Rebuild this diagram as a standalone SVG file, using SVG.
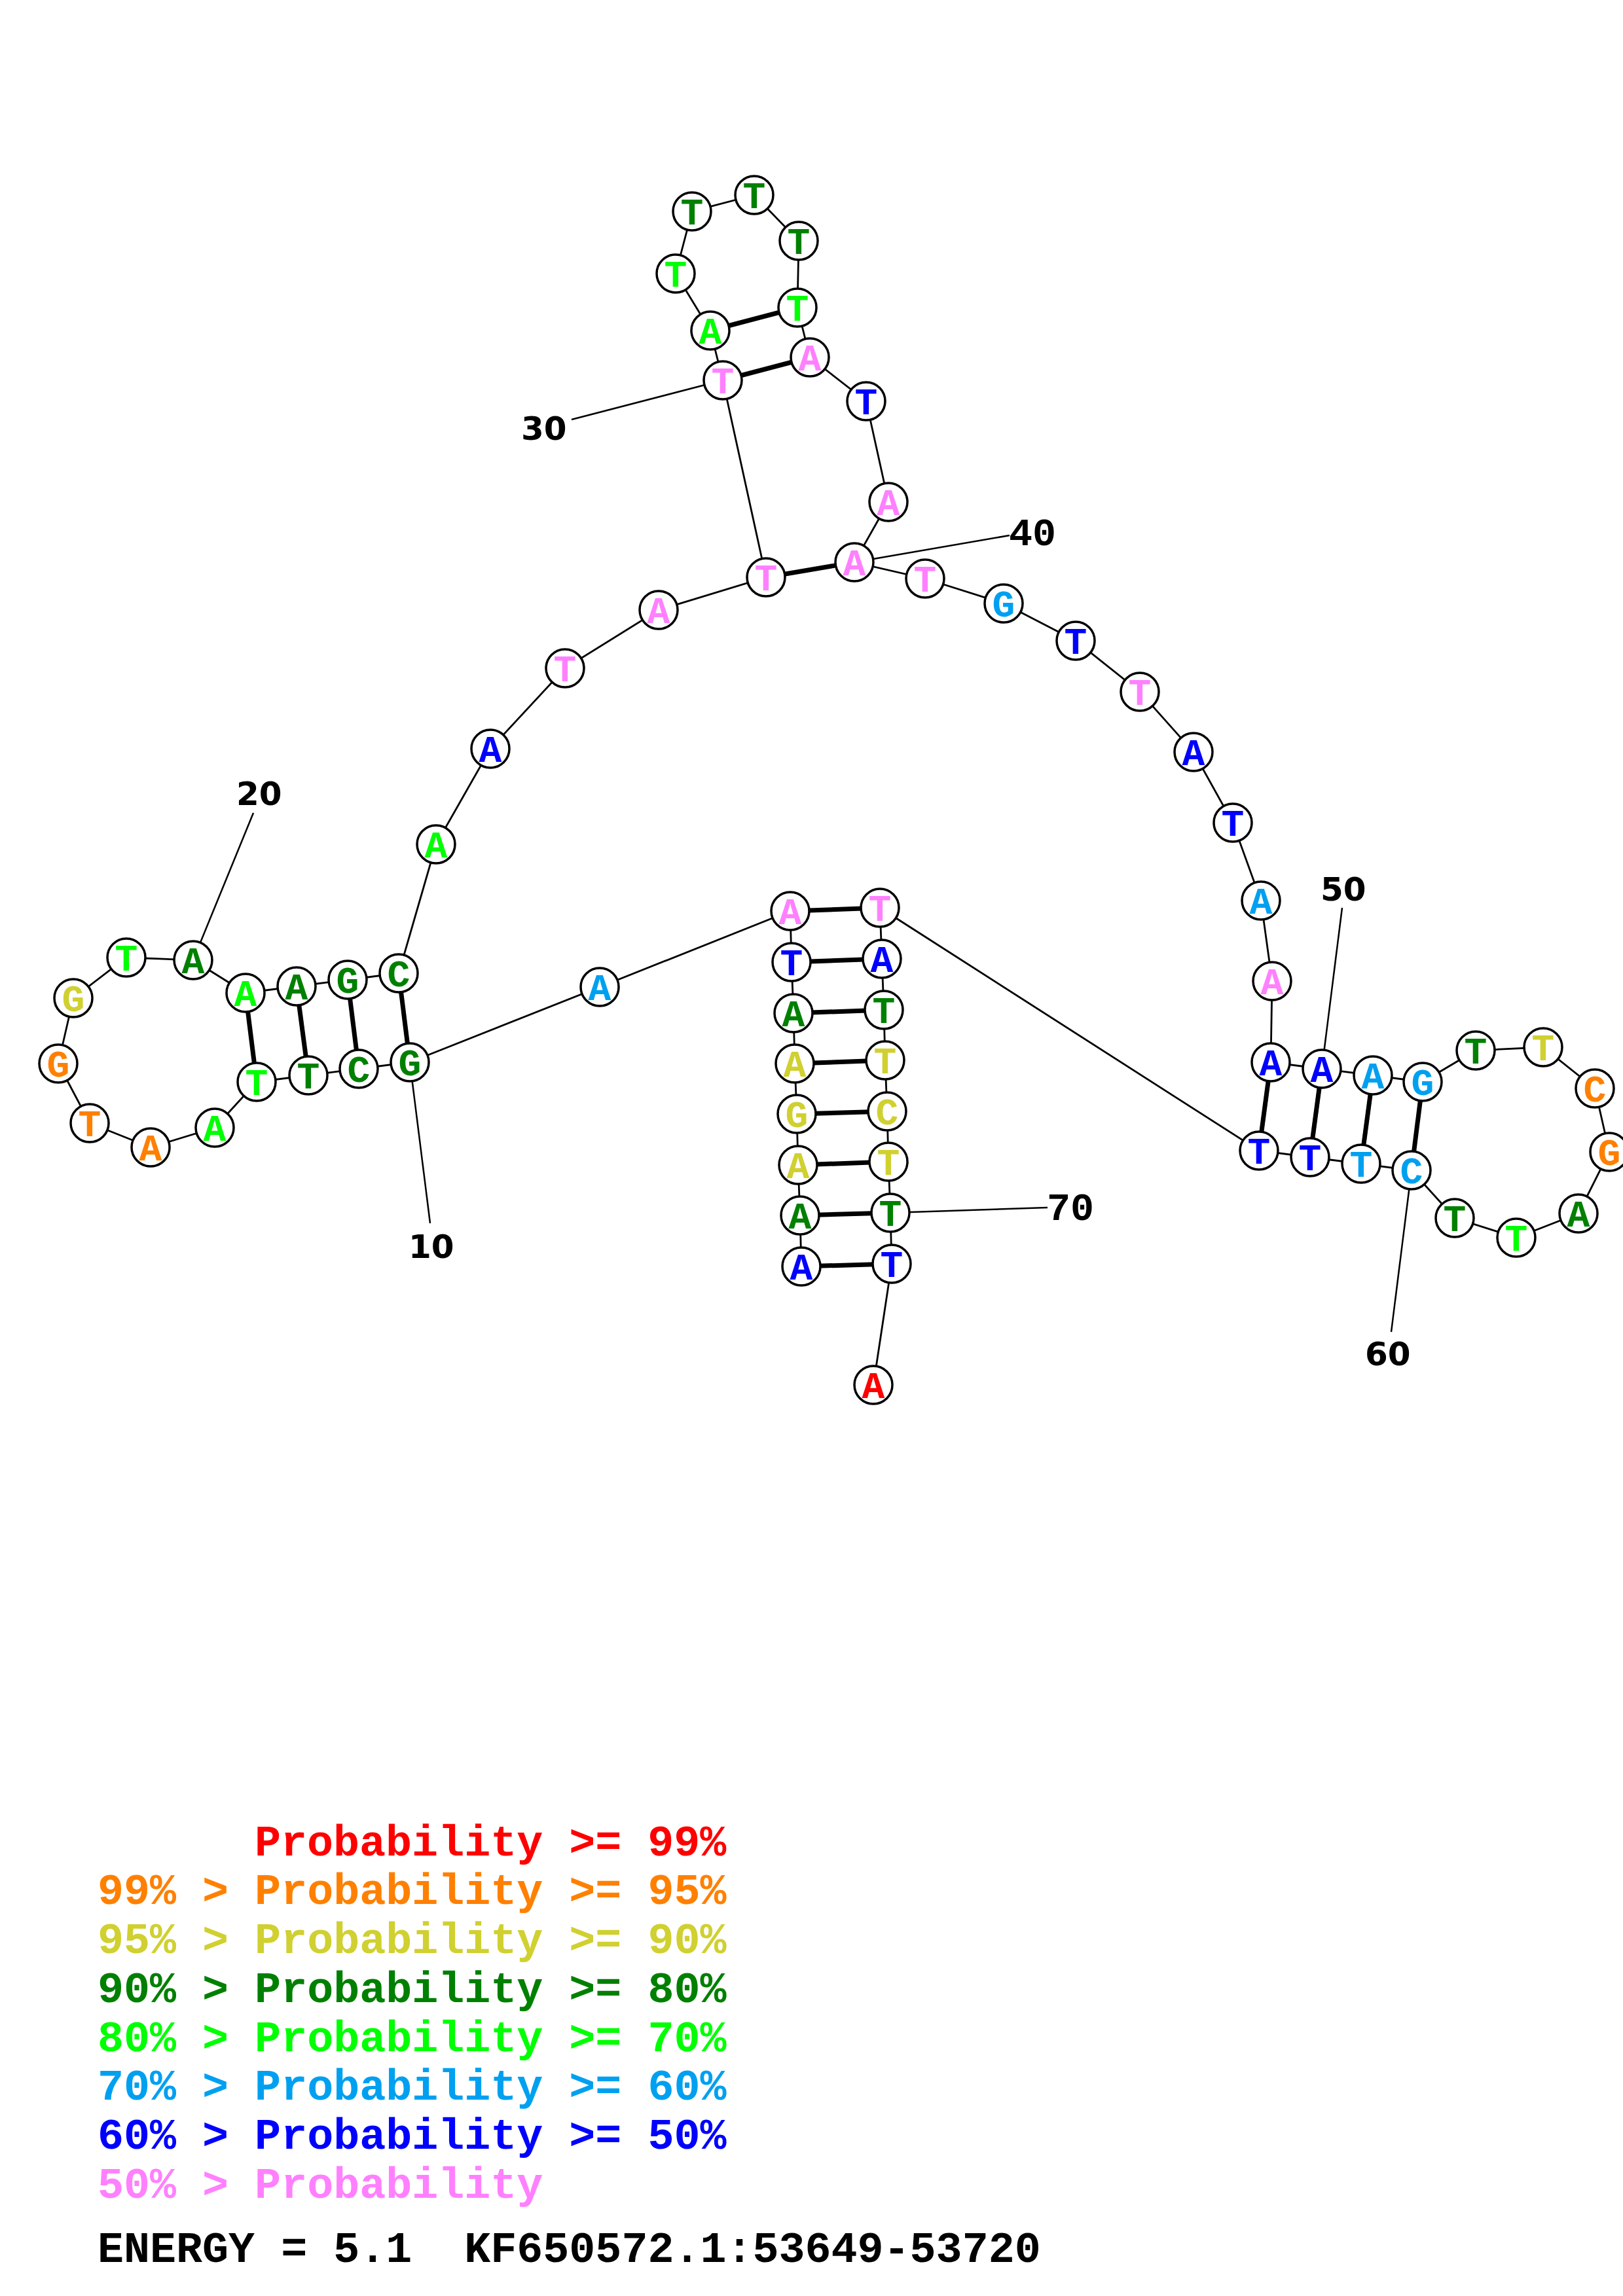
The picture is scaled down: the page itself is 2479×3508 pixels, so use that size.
<svg xmlns="http://www.w3.org/2000/svg" width="2479" height="3508" viewBox="0 0 2479 3508">
<style>
.bb{stroke:#000;stroke-width:2.8;fill:none}
.pr{stroke:#000;stroke-width:7;fill:none}
.lb{stroke:#000;stroke-width:2.5;fill:none}
circle{fill:#fff;stroke:#000;stroke-width:3.5}
.nt{font-family:"Liberation Mono","Courier New",monospace;font-weight:bold;font-size:58px;text-anchor:middle}
.num{font-family:"DejaVu Sans","Liberation Sans",sans-serif;font-weight:bold;font-size:50px;fill:#000}
.numm{font-family:"Liberation Mono","Courier New",monospace;font-weight:bold;font-size:60px;fill:#000}
.lg{font-family:"Liberation Mono","Courier New",monospace;font-weight:bold;font-size:66.7px}
.r{fill:#ff0000}.o{fill:#ff8000}.y{fill:#d0d030}.dg{fill:#008000}.g{fill:#00ff00}.lb2{fill:#00a0f0}.b{fill:#0000ff}.p{fill:#ff80ff}.k{fill:#000}
</style>
<rect width="2479" height="3508" fill="#fff"/>
<g id="connectors">
<polyline class="bb" points="1224,1935 1222,1857 1219,1780 1217,1702 1214,1625 1212,1548 1209,1470 1207,1392 916,1508 626,1623 548,1633 471,1643 392,1653 328,1723 230,1753 137,1716 89,1625 112,1525 193,1463 295,1467 375,1517 453,1507 531,1497 609,1487 666,1290 749,1144 863,1021 1006,932 1170,882 1104,581 1085,505 1032,418 1057,323 1152,298 1220,368 1218,470 1237,546 1323,613 1357,767 1305,859 1413,884 1533,922 1643,979 1741,1057 1823,1149 1883,1257 1926,1376 1943,1499 1941,1623 2019,1633 2097,1643 2173,1653 2254,1605 2357,1600 2436,1663 2458,1760 2411,1854 2316,1891 2222,1861 2156,1788 2079,1778 2001,1768 1923,1758 1344,1387 1347,1465 1350,1543 1352,1620 1355,1698 1357,1775 1360,1853 1362,1931 1334,2116"/>
<line class="pr" x1="1224" y1="1935" x2="1362" y2="1931"/>
<line class="pr" x1="1222" y1="1857" x2="1360" y2="1853"/>
<line class="pr" x1="1219" y1="1780" x2="1357" y2="1775"/>
<line class="pr" x1="1217" y1="1702" x2="1355" y2="1698"/>
<line class="pr" x1="1214" y1="1625" x2="1352" y2="1620"/>
<line class="pr" x1="1212" y1="1548" x2="1350" y2="1543"/>
<line class="pr" x1="1209" y1="1470" x2="1347" y2="1465"/>
<line class="pr" x1="1207" y1="1392" x2="1344" y2="1387"/>
<line class="pr" x1="626" y1="1623" x2="609" y2="1487"/>
<line class="pr" x1="548" y1="1633" x2="531" y2="1497"/>
<line class="pr" x1="471" y1="1643" x2="453" y2="1507"/>
<line class="pr" x1="392" y1="1653" x2="375" y2="1517"/>
<line class="pr" x1="1170" y1="882" x2="1305" y2="859"/>
<line class="pr" x1="1104" y1="581" x2="1237" y2="546"/>
<line class="pr" x1="1085" y1="505" x2="1218" y2="470"/>
<line class="pr" x1="1941" y1="1623" x2="1923" y2="1758"/>
<line class="pr" x1="2019" y1="1633" x2="2001" y2="1768"/>
<line class="pr" x1="2097" y1="1643" x2="2079" y2="1778"/>
<line class="pr" x1="2173" y1="1653" x2="2156" y2="1788"/>
<line class="lb" x1="626" y1="1623" x2="657" y2="1869"/>
<line class="lb" x1="295" y1="1467" x2="387" y2="1242"/>
<line class="lb" x1="1104" y1="581" x2="873" y2="641"/>
<line class="lb" x1="1305" y1="859" x2="1542" y2="818"/>
<line class="lb" x1="2019" y1="1633" x2="2050" y2="1387"/>
<line class="lb" x1="2156" y1="1788" x2="2125" y2="2035"/>
<line class="lb" x1="1360" y1="1853" x2="1600" y2="1845"/>
</g>
<g id="n1"><circle cx="1224" cy="1935" r="29"/><text class="nt b" x="1224" y="1955">A</text></g>
<g id="n2"><circle cx="1222" cy="1857" r="29"/><text class="nt dg" x="1222" y="1877">A</text></g>
<g id="n3"><circle cx="1219" cy="1780" r="29"/><text class="nt y" x="1219" y="1800">A</text></g>
<g id="n4"><circle cx="1217" cy="1702" r="29"/><text class="nt y" x="1217" y="1722">G</text></g>
<g id="n5"><circle cx="1214" cy="1625" r="29"/><text class="nt y" x="1214" y="1645">A</text></g>
<g id="n6"><circle cx="1212" cy="1548" r="29"/><text class="nt dg" x="1212" y="1568">A</text></g>
<g id="n7"><circle cx="1209" cy="1470" r="29"/><text class="nt b" x="1209" y="1490">T</text></g>
<g id="n8"><circle cx="1207" cy="1392" r="29"/><text class="nt p" x="1207" y="1412">A</text></g>
<g id="n9"><circle cx="916" cy="1508" r="29"/><text class="nt lb2" x="916" y="1528">A</text></g>
<g id="n10"><circle cx="626" cy="1623" r="29"/><text class="nt dg" x="626" y="1643">G</text></g>
<g id="n11"><circle cx="548" cy="1633" r="29"/><text class="nt dg" x="548" y="1653">C</text></g>
<g id="n12"><circle cx="471" cy="1643" r="29"/><text class="nt dg" x="471" y="1663">T</text></g>
<g id="n13"><circle cx="392" cy="1653" r="29"/><text class="nt g" x="392" y="1673">T</text></g>
<g id="n14"><circle cx="328" cy="1723" r="29"/><text class="nt g" x="328" y="1743">A</text></g>
<g id="n15"><circle cx="230" cy="1753" r="29"/><text class="nt o" x="230" y="1773">A</text></g>
<g id="n16"><circle cx="137" cy="1716" r="29"/><text class="nt o" x="137" y="1736">T</text></g>
<g id="n17"><circle cx="89" cy="1625" r="29"/><text class="nt o" x="89" y="1645">G</text></g>
<g id="n18"><circle cx="112" cy="1525" r="29"/><text class="nt y" x="112" y="1545">G</text></g>
<g id="n19"><circle cx="193" cy="1463" r="29"/><text class="nt g" x="193" y="1483">T</text></g>
<g id="n20"><circle cx="295" cy="1467" r="29"/><text class="nt dg" x="295" y="1487">A</text></g>
<g id="n21"><circle cx="375" cy="1517" r="29"/><text class="nt g" x="375" y="1537">A</text></g>
<g id="n22"><circle cx="453" cy="1507" r="29"/><text class="nt dg" x="453" y="1527">A</text></g>
<g id="n23"><circle cx="531" cy="1497" r="29"/><text class="nt dg" x="531" y="1517">G</text></g>
<g id="n24"><circle cx="609" cy="1487" r="29"/><text class="nt dg" x="609" y="1507">C</text></g>
<g id="n25"><circle cx="666" cy="1290" r="29"/><text class="nt g" x="666" y="1310">A</text></g>
<g id="n26"><circle cx="749" cy="1144" r="29"/><text class="nt b" x="749" y="1164">A</text></g>
<g id="n27"><circle cx="863" cy="1021" r="29"/><text class="nt p" x="863" y="1041">T</text></g>
<g id="n28"><circle cx="1006" cy="932" r="29"/><text class="nt p" x="1006" y="952">A</text></g>
<g id="n29"><circle cx="1170" cy="882" r="29"/><text class="nt p" x="1170" y="902">T</text></g>
<g id="n30"><circle cx="1104" cy="581" r="29"/><text class="nt p" x="1104" y="601">T</text></g>
<g id="n31"><circle cx="1085" cy="505" r="29"/><text class="nt g" x="1085" y="525">A</text></g>
<g id="n32"><circle cx="1032" cy="418" r="29"/><text class="nt g" x="1032" y="438">T</text></g>
<g id="n33"><circle cx="1057" cy="323" r="29"/><text class="nt dg" x="1057" y="343">T</text></g>
<g id="n34"><circle cx="1152" cy="298" r="29"/><text class="nt dg" x="1152" y="318">T</text></g>
<g id="n35"><circle cx="1220" cy="368" r="29"/><text class="nt dg" x="1220" y="388">T</text></g>
<g id="n36"><circle cx="1218" cy="470" r="29"/><text class="nt g" x="1218" y="490">T</text></g>
<g id="n37"><circle cx="1237" cy="546" r="29"/><text class="nt p" x="1237" y="566">A</text></g>
<g id="n38"><circle cx="1323" cy="613" r="29"/><text class="nt b" x="1323" y="633">T</text></g>
<g id="n39"><circle cx="1357" cy="767" r="29"/><text class="nt p" x="1357" y="787">A</text></g>
<g id="n40"><circle cx="1305" cy="859" r="29"/><text class="nt p" x="1305" y="879">A</text></g>
<g id="n41"><circle cx="1413" cy="884" r="29"/><text class="nt p" x="1413" y="904">T</text></g>
<g id="n42"><circle cx="1533" cy="922" r="29"/><text class="nt lb2" x="1533" y="942">G</text></g>
<g id="n43"><circle cx="1643" cy="979" r="29"/><text class="nt b" x="1643" y="999">T</text></g>
<g id="n44"><circle cx="1741" cy="1057" r="29"/><text class="nt p" x="1741" y="1077">T</text></g>
<g id="n45"><circle cx="1823" cy="1149" r="29"/><text class="nt b" x="1823" y="1169">A</text></g>
<g id="n46"><circle cx="1883" cy="1257" r="29"/><text class="nt b" x="1883" y="1277">T</text></g>
<g id="n47"><circle cx="1926" cy="1376" r="29"/><text class="nt lb2" x="1926" y="1396">A</text></g>
<g id="n48"><circle cx="1943" cy="1499" r="29"/><text class="nt p" x="1943" y="1519">A</text></g>
<g id="n49"><circle cx="1941" cy="1623" r="29"/><text class="nt b" x="1941" y="1643">A</text></g>
<g id="n50"><circle cx="2019" cy="1633" r="29"/><text class="nt b" x="2019" y="1653">A</text></g>
<g id="n51"><circle cx="2097" cy="1643" r="29"/><text class="nt lb2" x="2097" y="1663">A</text></g>
<g id="n52"><circle cx="2173" cy="1653" r="29"/><text class="nt lb2" x="2173" y="1673">G</text></g>
<g id="n53"><circle cx="2254" cy="1605" r="29"/><text class="nt dg" x="2254" y="1625">T</text></g>
<g id="n54"><circle cx="2357" cy="1600" r="29"/><text class="nt y" x="2357" y="1620">T</text></g>
<g id="n55"><circle cx="2436" cy="1663" r="29"/><text class="nt o" x="2436" y="1683">C</text></g>
<g id="n56"><circle cx="2458" cy="1760" r="29"/><text class="nt o" x="2458" y="1780">G</text></g>
<g id="n57"><circle cx="2411" cy="1854" r="29"/><text class="nt dg" x="2411" y="1874">A</text></g>
<g id="n58"><circle cx="2316" cy="1891" r="29"/><text class="nt g" x="2316" y="1911">T</text></g>
<g id="n59"><circle cx="2222" cy="1861" r="29"/><text class="nt dg" x="2222" y="1881">T</text></g>
<g id="n60"><circle cx="2156" cy="1788" r="29"/><text class="nt lb2" x="2156" y="1808">C</text></g>
<g id="n61"><circle cx="2079" cy="1778" r="29"/><text class="nt lb2" x="2079" y="1798">T</text></g>
<g id="n62"><circle cx="2001" cy="1768" r="29"/><text class="nt b" x="2001" y="1788">T</text></g>
<g id="n63"><circle cx="1923" cy="1758" r="29"/><text class="nt b" x="1923" y="1778">T</text></g>
<g id="n64"><circle cx="1344" cy="1387" r="29"/><text class="nt p" x="1344" y="1407">T</text></g>
<g id="n65"><circle cx="1347" cy="1465" r="29"/><text class="nt b" x="1347" y="1485">A</text></g>
<g id="n66"><circle cx="1350" cy="1543" r="29"/><text class="nt dg" x="1350" y="1563">T</text></g>
<g id="n67"><circle cx="1352" cy="1620" r="29"/><text class="nt y" x="1352" y="1640">T</text></g>
<g id="n68"><circle cx="1355" cy="1698" r="29"/><text class="nt y" x="1355" y="1718">C</text></g>
<g id="n69"><circle cx="1357" cy="1775" r="29"/><text class="nt y" x="1357" y="1795">T</text></g>
<g id="n70"><circle cx="1360" cy="1853" r="29"/><text class="nt dg" x="1360" y="1873">T</text></g>
<g id="n71"><circle cx="1362" cy="1931" r="29"/><text class="nt b" x="1362" y="1951">T</text></g>
<g id="n72"><circle cx="1334" cy="2116" r="29"/><text class="nt r" x="1334" y="2136">A</text></g>
<g id="labels">
<text class="num" x="624" y="1922">10</text>
<text class="num" x="361" y="1230">20</text>
<text class="num" x="796" y="672">30</text>
<text class="numm" x="1541" y="833">40</text>
<text class="num" x="2017" y="1376">50</text>
<text class="num" x="2085" y="2086">60</text>
<text class="numm" x="1599" y="1864">70</text>
</g>
<g id="legend" class="lg">
<text class="r" x="389" y="2835">Probability &gt;= 99%</text>
<text class="o" x="149" y="2909">99% &gt; Probability &gt;= 95%</text>
<text class="y" x="149" y="2984">95% &gt; Probability &gt;= 90%</text>
<text class="dg" x="149" y="3059">90% &gt; Probability &gt;= 80%</text>
<text class="g" x="149" y="3134">80% &gt; Probability &gt;= 70%</text>
<text class="lb2" x="149" y="3208">70% &gt; Probability &gt;= 60%</text>
<text class="b" x="149" y="3283">60% &gt; Probability &gt;= 50%</text>
<text class="p" x="149" y="3358">50% &gt; Probability</text>
<text class="k" x="149" y="3456" xml:space="preserve">ENERGY = 5.1  KF650572.1:53649-53720</text>
</g>
</svg>
